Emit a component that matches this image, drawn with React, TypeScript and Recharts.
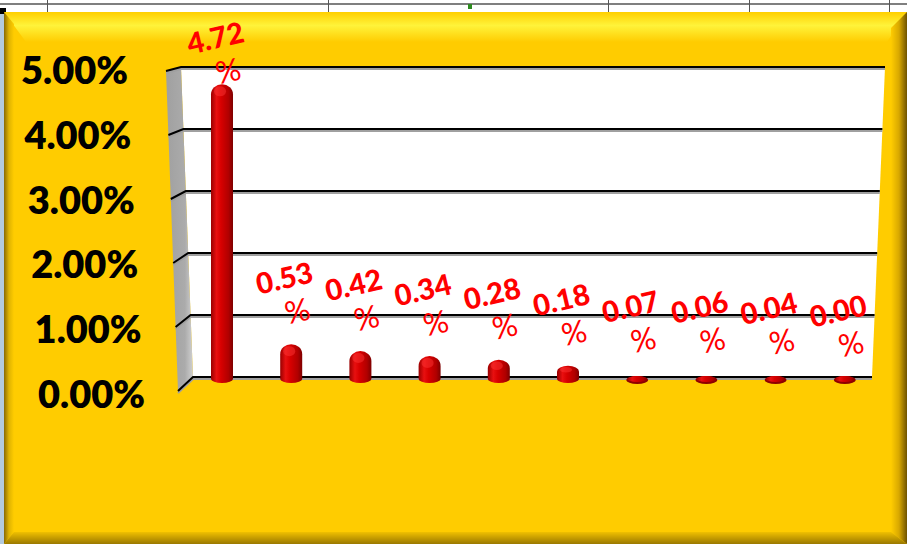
import React from "react";
import { BarChart, Bar, XAxis, YAxis, CartesianGrid, LabelList } from "recharts";

const categories = ["A", "B", "C", "D", "E", "F", "G", "H", "I", "J"];
const shares = [4.72, 0.53, 0.42, 0.34, 0.28, 0.18, 0.07, 0.06, 0.04, 0.0];
const yTicks = [0, 1, 2, 3, 4, 5];

const data = categories.map((c, i) => ({ name: c, value: shares[i] }));

const W = 907;
const H = 544;
const FONT = "Lato, 'DejaVu Sans', sans-serif";

const renderGridLine = (p: any) => {
  const { x1, x2, y1, index, y, height } = p;
  const top = y;
  const h = height;
  const t = (y1 - top) / h;
  const lx = x1 - 6 + 12 * t;
  const rx = x2 + 6 - 13 * t;
  const dy = 4 + 10 * t;
  const line = `M${lx - 15},${y1 + dy} L${lx},${y1} L${rx},${y1}`;
  return (
    <g key={`gl-${index}`}>
      {index === 0 && (
        <g>
          <polygon
            points={`${x1 - 6},${top} ${x2 + 6},${top} ${x2 - 7},${top + h} ${x1 + 6},${top + h}`}
            fill="#FFFFFF"
          />
          <polygon
            points={`${x1 - 21},${top + 4} ${x1 - 6},${top} ${x1 + 6},${top + h} ${x1 - 9},${top + h + 14}`}
            fill="url(#sideWall)"
          />
        </g>
      )}
      <path d={line} transform="translate(0,2)" stroke="#A0A0A0" strokeWidth={2} fill="none" />
      <path d={line} stroke="#000" strokeWidth={2} fill="none" />
    </g>
  );
};

const YTick = (p: any) => {
  const { x, y, payload } = p;
  const v = Number(payload.value);
  return (
    <text
      x={x - 42 - 3.4 * v}
      y={y + 16 - 2.8 * v}
      textAnchor="end"
      dominantBaseline="central"
      fontFamily={FONT}
      fontWeight={800}
      fontSize={38}
      fill="#000"
    >
      {`${v.toFixed(2)}%`}
    </text>
  );
};

const CylinderBar = (p: any) => {
  const { x, y, width, height } = p;
  const bottom = y + height;
  const rx = width / 2;
  const cx = x + rx;
  if (height < 7) {
    return (
      <g>
        <ellipse cx={cx} cy={bottom + 3} rx={rx} ry={4} fill="#8E0000" />
        <ellipse cx={cx} cy={bottom + 2} rx={rx - 1} ry={3} fill="url(#cylGrad)" />
      </g>
    );
  }
  const dr = Math.min(10, height / 2);
  const d = `M${x},${bottom + 2} L${x},${y + dr} A${rx},${dr} 0 0 1 ${x + width},${y + dr} L${x + width},${bottom + 2} A${rx},4 0 0 1 ${x},${bottom + 2} Z`;
  return (
    <g>
      <path d={d} fill="url(#cylGrad)" />
      <ellipse cx={cx - 2} cy={y + dr * 0.7} rx={rx * 0.55} ry={dr * 0.5} fill="#FF3A3A" opacity={0.45} />
    </g>
  );
};

const ValueLabel = (p: any) => {
  const { x, y, width, value } = p;
  const cx = x + width / 2;
  const numY = Math.max(y - 67, 37);
  const nx = cx - 7;
  const px = cx + 6;
  const py = numY + 33;
  return (
    <g fill="#FF0000" fontFamily={FONT}>
      <text
        x={nx}
        y={numY}
        textAnchor="middle"
        dominantBaseline="central"
        fontSize={29}
        fontWeight={900}
        transform={`rotate(-13 ${nx} ${numY})`}
      >
        {Number(value).toFixed(2)}
      </text>
      <text
        x={px}
        y={py}
        textAnchor="middle"
        dominantBaseline="central"
        fontSize={31}
        fontWeight={400}
        transform={`rotate(-13 ${px} ${py})`}
      >
        %
      </text>
    </g>
  );
};

const Backdrop = () => (
  <svg width={W} height={H} style={{ position: "absolute", left: 0, top: 0 }}>
    <defs>
      <linearGradient id="cylGrad" x1="0" y1="0" x2="1" y2="0">
        <stop offset="0" stopColor="#9A0000" />
        <stop offset="0.25" stopColor="#E81010" />
        <stop offset="0.45" stopColor="#D80000" />
        <stop offset="0.8" stopColor="#B00000" />
        <stop offset="1" stopColor="#7E0000" />
      </linearGradient>
      <linearGradient id="sideWall" x1="0" y1="0" x2="1" y2="0">
        <stop offset="0" stopColor="#A0A0A0" />
        <stop offset="0.7" stopColor="#ABABAB" />
        <stop offset="1" stopColor="#D0D0D0" />
      </linearGradient>
      <linearGradient id="topBevel" x1="0" y1="0" x2="0" y2="1">
        <stop offset="0" stopColor="#FFCF00" />
        <stop offset="0.45" stopColor="#FFF33A" />
        <stop offset="1" stopColor="#FFCC00" />
      </linearGradient>
      <linearGradient id="rightBevel" x1="0" y1="0" x2="1" y2="0">
        <stop offset="0" stopColor="#FFCC00" />
        <stop offset="0.5" stopColor="#D8A800" />
        <stop offset="1" stopColor="#6E5200" />
      </linearGradient>
      <linearGradient id="leftBevel" x1="0" y1="0" x2="1" y2="0">
        <stop offset="0" stopColor="#8A6A00" />
        <stop offset="0.5" stopColor="#E0B400" />
        <stop offset="1" stopColor="#FFCC00" />
      </linearGradient>
      <linearGradient id="bottomBevel" x1="0" y1="0" x2="0" y2="1">
        <stop offset="0" stopColor="#F0C000" />
        <stop offset="1" stopColor="#9A7800" />
      </linearGradient>
    </defs>
    <rect x={0} y={0} width={W} height={14} fill="#FFFFFF" />
    <rect x={0} y={3} width={W} height={2} fill="#7F7F7F" />
    {[47, 328, 608, 749, 889].map((vx) => (
      <rect key={vx} x={vx} y={0} width={1} height={14} fill="#555" />
    ))}
    <rect x={468} y={4} width={4} height={5} fill="#2E8B20" />
    <rect x={0} y={8} width={5} height={H - 8} fill="#B4CADC" />
    <rect x={0} y={8} width={6} height={6} fill="#000" />
    <rect x={4} y={12} width={W - 4} height={H - 12} fill="#FFCC00" />
    <polygon points={`4,12 ${W},12 ${W - 20},42 26,42`} fill="url(#topBevel)" />
    <polygon points={`${W - 16},28 ${W},12 ${W},${H} ${W - 16},${H - 12}`} fill="url(#rightBevel)" />
    <polygon points={`4,12 14,24 14,${H - 12} 4,${H}`} fill="url(#leftBevel)" />
    <polygon points={`14,${H - 12} ${W - 16},${H - 12} ${W},${H} 4,${H}`} fill="url(#bottomBevel)" />
  </svg>
);

export default function App() {
  return (
    <div style={{ position: "absolute", left: 0, top: 0, width: W, height: H, overflow: "hidden" }}>
      <Backdrop />
      <div style={{ position: "absolute", left: 0, top: 0 }}>
        <BarChart
          width={W}
          height={H}
          data={data}
          margin={{ top: 67, right: 28, bottom: 167, left: 0 }}
          barCategoryGap={0}
        >
          <CartesianGrid vertical={false} horizontal={renderGridLine} stroke="#000" />
          <XAxis dataKey="name" hide />
          <YAxis
            width={187}
            domain={[0, 5]}
            ticks={yTicks}
            axisLine={false}
            tickLine={false}
            tickSize={0}
            tickMargin={0}
            interval={0}
            tick={<YTick />}
          />
          <Bar dataKey="value" barSize={22} shape={<CylinderBar />} isAnimationActive={false}>
            <LabelList dataKey="value" content={<ValueLabel />} />
          </Bar>
        </BarChart>
      </div>
    </div>
  );
}
